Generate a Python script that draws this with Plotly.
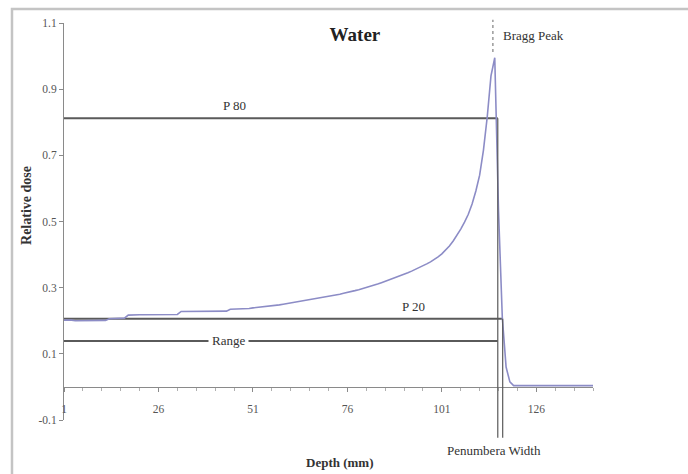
import plotly.graph_objects as go

# ---------------- data ----------------
depth_mm = list(range(1, 142))
relative_dose = [
    0.202, 0.203, 0.202, 0.200, 0.200, 0.199, 0.199, 0.199, 0.199, 0.199,
    0.200, 0.201, 0.206, 0.207, 0.207, 0.207, 0.208, 0.217, 0.218, 0.218,
    0.218, 0.218, 0.218, 0.218, 0.218, 0.218, 0.218, 0.219, 0.219, 0.219,
    0.219, 0.228, 0.228, 0.228, 0.228, 0.229, 0.229, 0.229, 0.229, 0.229,
    0.229, 0.229, 0.229, 0.229, 0.235, 0.235, 0.236, 0.236, 0.237, 0.237,
    0.239, 0.240, 0.242, 0.243, 0.244, 0.245, 0.247, 0.248, 0.250, 0.252,
    0.254, 0.255, 0.257, 0.258, 0.260, 0.262, 0.264, 0.266, 0.268, 0.270,
    0.272, 0.275, 0.277, 0.280, 0.283, 0.285, 0.288, 0.291, 0.294, 0.297,
    0.300, 0.303, 0.307, 0.311, 0.315, 0.319, 0.323, 0.327, 0.331, 0.336,
    0.341, 0.345, 0.350, 0.355, 0.360, 0.366, 0.372, 0.378, 0.385, 0.393,
    0.402, 0.413, 0.426, 0.441, 0.458, 0.477, 0.498, 0.522, 0.553, 0.592,
    0.640, 0.715, 0.815, 0.940, 0.995, 0.530, 0.210, 0.060, 0.015, 0.004,
    0.004, 0.004, 0.004, 0.004, 0.004, 0.004, 0.004, 0.004, 0.004, 0.004,
    0.004, 0.004, 0.004, 0.004, 0.004, 0.004, 0.004, 0.004, 0.004, 0.004,
    0.004,
]
x_tick_vals = [1, 26, 51, 76, 101, 126]
y_tick_vals = [-0.1, 0.1, 0.3, 0.5, 0.7, 0.9, 1.1]
y_tick_text = ["-0.1", "0.1", "0.3", "0.5", "0.7", "0.9", "1.1"]

p80_level = 0.812
p20_level = 0.206
range_level = 0.139
p80_depth = 115.8
p20_depth = 117.1
bragg_peak_depth = 114.5
bragg_peak_dose = 1.012

Y_MIN, Y_MAX = -0.1, 1.1
X_MIN, X_MAX = 1, 141


def to_paper(v):
    return (v - Y_MIN) / (Y_MAX - Y_MIN)


SERIF = "Liberation Serif"
AX_COLOR = "#8a8a8a"
REF_COLOR = "#5a5a5a"

fig = go.Figure()

# horizontal reference lines (P80, P20, Range)
for lvl, end in [(p80_level, p80_depth), (p20_level, p20_depth), (range_level, p80_depth)]:
    fig.add_trace(go.Scatter(x=[X_MIN, end], y=[lvl, lvl], mode="lines",
                             line=dict(color=REF_COLOR, width=2), hoverinfo="skip",
                             showlegend=False))

# depth-dose curve
fig.add_trace(go.Scatter(x=depth_mm, y=relative_dose, mode="lines",
                         line=dict(color="#8c8cc6", width=1.6), showlegend=False))

shapes = [
    # chart-area border
    dict(type="rect", xref="paper", yref="paper", x0=-0.0983, x1=1.4, y0=-0.3, y1=1.035,
         line=dict(color="#c4c4c4", width=2.5), layer="below"),
    # vertical penumbra lines
    dict(type="line", xref="x", yref="paper", x0=p80_depth, x1=p80_depth,
         y0=to_paper(p80_level), y1=-0.045, line=dict(color=REF_COLOR, width=1.2)),
    dict(type="line", xref="x", yref="paper", x0=p20_depth, x1=p20_depth,
         y0=to_paper(p20_level), y1=-0.045, line=dict(color=REF_COLOR, width=1.2)),
    # Bragg peak marker
    dict(type="line", xref="x", yref="paper", x0=bragg_peak_depth, x1=bragg_peak_depth,
         y0=to_paper(bragg_peak_dose), y1=1.008,
         line=dict(color="#9a9a9a", width=1.5, dash="dot")),
]

ann_font = dict(family=SERIF, size=13, color="#333333")
annotations = [
    dict(x=46.2, y=p80_level, xref="x", yref="y", text="P 80", showarrow=False,
         yanchor="bottom", yshift=3, font=ann_font),
    dict(x=93.6, y=p20_level, xref="x", yref="y", text="P 20", showarrow=False,
         yanchor="bottom", yshift=3, font=ann_font),
    dict(x=44.6, y=range_level, xref="x", yref="y", text="Range", showarrow=False,
         bgcolor="white", borderpad=3, font=ann_font),
    dict(x=bragg_peak_depth, y=1.062, xref="x", yref="y", text="Bragg Peak",
         showarrow=False, xanchor="left", xshift=8, font=ann_font),
    dict(x=114.8, y=-0.0756, xref="x", yref="paper", yanchor="middle",
         text="Penumbera Width", showarrow=False, font=ann_font),
    # axis titles
    dict(x=0.522, y=-0.106, xref="paper", yref="paper", yanchor="middle",
         text="<b>Depth (mm)</b>", showarrow=False,
         font=dict(family=SERIF, size=13, color="#333333")),
    dict(x=-0.07, y=0.5416, xref="paper", yref="paper", xanchor="center", yanchor="middle",
         text="<b>Relative dose</b>", textangle=-90, showarrow=False,
         font=dict(family=SERIF, size=14, color="#333333")),
]

fig.update_layout(
    width=688, height=474,
    margin=dict(l=64, r=95, t=23, b=54),
    paper_bgcolor="white", plot_bgcolor="white",
    shapes=shapes, annotations=annotations,
    title=dict(text="<b>Water</b>", x=0.55, xref="paper", y=1 - 34 / 474,
               yanchor="middle", xanchor="center",
               font=dict(family=SERIF, size=19, color="#222222")),
    xaxis=dict(range=[X_MIN, X_MAX], anchor="free", position=to_paper(0),
               showline=True, linecolor=AX_COLOR, linewidth=1,
               tickvals=x_tick_vals, ticks="outside", ticklen=4, tickcolor=AX_COLOR,
               ticklabelstandoff=7,
               minor=dict(tick0=1, dtick=5, ticks="outside", ticklen=3, tickcolor="#b0b0b0"),
               showgrid=False, zeroline=False,
               tickfont=dict(family=SERIF, size=11.5, color="#555555")),
    yaxis=dict(range=[Y_MIN, Y_MAX], showline=True, linecolor=AX_COLOR, linewidth=1,
               tickvals=y_tick_vals, ticktext=y_tick_text, ticks="outside", ticklen=4,
               tickcolor=AX_COLOR, showgrid=False, zeroline=False,
               tickfont=dict(family=SERIF, size=11.5, color="#555555")),
)

fig.write_html("out.html")
